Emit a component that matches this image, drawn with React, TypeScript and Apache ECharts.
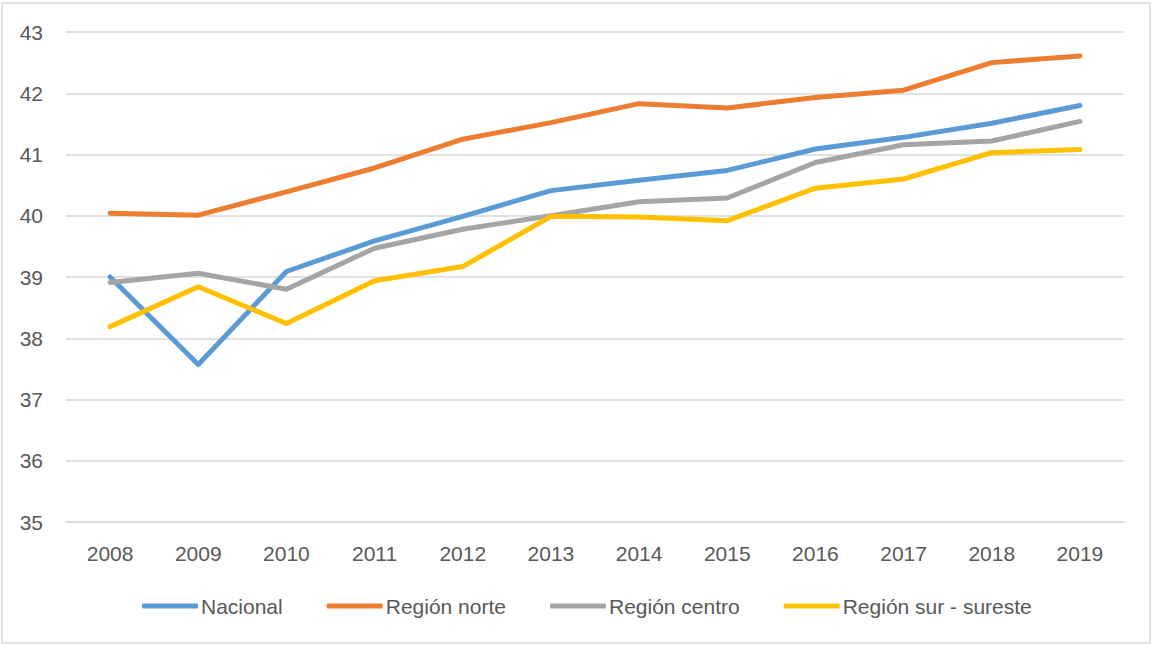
import React, { useEffect, useRef } from "react";
import * as echarts from "echarts";

const years = ["2008", "2009", "2010", "2011", "2012", "2013", "2014", "2015", "2016", "2017", "2018", "2019"];
const nacional = [39.0, 37.57, 39.09, 39.59, 39.99, 40.41, 40.58, 40.74, 41.09, 41.28, 41.51, 41.8];
const norte = [40.04, 40.01, 40.39, 40.78, 41.25, 41.52, 41.83, 41.76, 41.93, 42.05, 42.5, 42.61];
const centro = [38.91, 39.06, 38.8, 39.47, 39.78, 40.0, 40.23, 40.29, 40.87, 41.16, 41.22, 41.54];
const sur = [38.19, 38.84, 38.24, 38.94, 39.17, 39.99, 39.98, 39.92, 40.45, 40.6, 41.03, 41.08];

const seriesNames = ["Nacional", "Región norte", "Región centro", "Región sur - sureste"];
const seriesColors = ["#5B9BD5", "#ED7D31", "#A5A5A5", "#FFC000"];
const seriesData = [nacional, norte, centro, sur];

export default function App() {
  const ref = useRef<HTMLDivElement>(null);
  useEffect(() => {
    document.body.style.margin = "0";
    const chart = echarts.init(ref.current!, null, { renderer: "svg" });
    const font = "'Liberation Sans', Arial, sans-serif";
    chart.setOption({
      animation: false,
      backgroundColor: "#ffffff",
      textStyle: { fontFamily: font },
      graphic: [
        {
          type: "rect",
          shape: { x: 2, y: 3, width: 1148, height: 640 },
          style: { fill: "none", stroke: "#d9d9d9", lineWidth: 1.5 },
          silent: true,
        },
      ],
      grid: { left: 66, right: 28, top: 32, bottom: 124 },
      legend: {
        left: 137,
        top: 589,
        itemWidth: 56,
        itemHeight: 5,
        itemGap: 44,
        icon: "roundRect",
        textStyle: { color: "#595959", fontSize: 21, fontFamily: font, lineHeight: 24, padding: [0, 0, 0, -2] },
        data: seriesNames,
      },
      xAxis: {
        type: "category",
        data: years,
        boundaryGap: true,
        axisLine: { show: true, lineStyle: { color: "#d9d9d9", width: 1.5 } },
        axisTick: { show: false },
        axisLabel: { color: "#595959", fontSize: 21, margin: 21, fontFamily: font },
      },
      yAxis: {
        type: "value",
        min: 35,
        max: 43,
        interval: 1,
        axisLine: { show: false },
        axisTick: { show: false },
        axisLabel: { color: "#595959", fontSize: 21, margin: 23, fontFamily: font },
        splitLine: { lineStyle: { color: "#d9d9d9", width: 1.5 } },
      },
      series: seriesNames.map((name, i) => ({
        name,
        type: "line",
        data: seriesData[i],
        symbol: "none",
        color: seriesColors[i],
        lineStyle: { width: 5, color: seriesColors[i], cap: "round", join: "round" },
      })),
    });
    return () => chart.dispose();
  }, []);
  return <div ref={ref} style={{ width: 1152, height: 646 }} />;
}
